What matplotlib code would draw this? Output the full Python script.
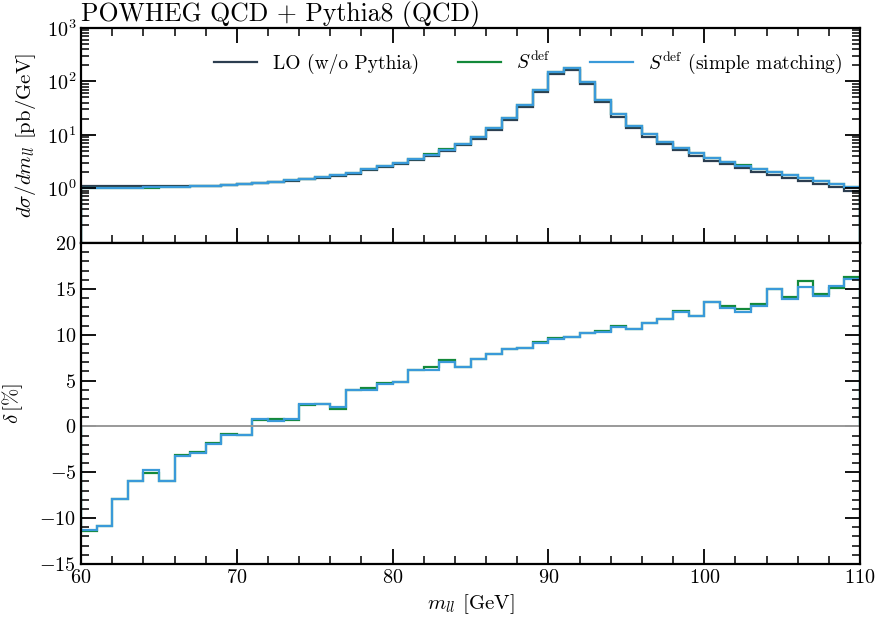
import numpy as np
import matplotlib; matplotlib.use('Agg')
import matplotlib.pyplot as plt
from matplotlib.ticker import MultipleLocator, LogLocator, NullFormatter, FixedLocator

plt.rcParams['font.family'] = 'serif'
plt.rcParams['font.serif'] = ['cmr10']
plt.rcParams['mathtext.fontset'] = 'cm'
plt.rcParams['axes.formatter.use_mathtext'] = True
plt.rcParams['axes.unicode_minus'] = True

# bin edges (1 GeV bins) and values
edges = np.arange(60, 111, 1)

# S^def (simple matching), top panel [pb/GeV]
xs_simple = [0.99, 1.00, 1.01, 1.02, 1.03, 1.03, 1.06, 1.08, 1.10, 1.13,
             1.18, 1.26, 1.32, 1.40, 1.50, 1.60, 1.75, 1.95, 2.25, 2.58,
             2.97, 3.53, 4.26, 5.29, 6.85, 9.1, 13.2, 20.6, 35.6, 70.0,
             149.0, 178.0, 97.0, 45.5, 24.2, 14.6, 10.2, 7.46, 5.76, 4.57,
             3.74, 3.15, 2.65, 2.30, 2.02, 1.77, 1.54, 1.35, 1.19, 1.03]

# delta [%] relative to LO
delta_def = [-11.45, -10.85, -7.95, -6.0, -5.1, -6.0, -3.1, -2.75, -1.8, -0.8,
             -0.9, 0.67, 0.8, 0.7, 2.3, 2.45, 1.87, 3.93, 4.15, 4.73,
             4.84, 6.1, 6.47, 7.27, 6.52, 7.39, 7.93, 8.41, 8.55, 9.2,
             9.6, 9.8, 10.2, 10.35, 10.94, 10.65, 11.3, 11.7, 12.57, 12.0,
             13.6, 13.12, 12.79, 13.33, 14.95, 14.13, 15.83, 14.49, 15.04, 16.27]
delta_simple = [-11.27, -10.83, -7.93, -6.0, -4.8, -6.0, -3.2, -2.85, -1.9, -0.97,
                -0.97, 0.78, 0.6, 0.85, 2.45, 2.45, 2.1, 3.93, 3.93, 4.62,
                4.84, 6.1, 6.2, 7.05, 6.52, 7.39, 7.86, 8.41, 8.55, 9.06,
                9.57, 9.75, 10.14, 10.33, 10.83, 10.62, 11.27, 11.7, 12.43, 11.99,
                13.59, 12.93, 12.46, 13.15, 14.93, 13.84, 15.22, 14.2, 15.29, 16.12]

xs_simple = np.array(xs_simple)
lo = xs_simple / (1 + np.array(delta_simple) / 100)
xs_def = lo * (1 + np.array(delta_def) / 100)

C_LO, C_DEF, C_SIM = '#2c3e50', '#13893a', '#3a9ad9'

fig = plt.figure(figsize=(8.79, 6.30), dpi=100)
ax1 = fig.add_axes([0.0922, 0.6143, 0.8862, 0.3413])
ax2 = fig.add_axes([0.0922, 0.1048, 0.8862, 0.5095], sharex=ax1)

def style(ax):
    for s in ax.spines.values(): s.set_linewidth(1.6)
    ax.tick_params(which='major', direction='in', length=11, width=1.3, labelsize=14.5)
    ax.tick_params(which='minor', direction='in', length=6, width=1.1)

# top panel
ax1.stairs(lo, edges, color=C_LO, lw=1.6, label='LO (w/o Pythia)')
ax1.stairs(xs_def, edges, color=C_DEF, lw=1.6, label=r'$S^{\rm def}$')
ax1.stairs(xs_simple, edges, color=C_SIM, lw=1.6, label=r'$S^{\rm def}$ (simple matching)')
ax1.set_yscale('log')
ax1.set_ylim(0.094, 1000)
ax1.set_xlim(60, 110)
ax1.yaxis.set_major_locator(FixedLocator([1, 10, 100, 1000]))
ax1.yaxis.set_minor_locator(LogLocator(base=10, subs=np.arange(2, 10), numticks=20))
ax1.yaxis.set_minor_formatter(NullFormatter())
ax1.xaxis.set_minor_locator(MultipleLocator(2))
style(ax1)
ax1.tick_params(which='both', top=True, right=True, labelbottom=False)
ax1.set_ylabel(r'$d\sigma/dm_{ll}$ [pb/GeV]', fontsize=15, labelpad=6)
ax1.set_title('POWHEG QCD + Pythia8 (QCD)', loc='left', fontsize=18.5, pad=5)
ax1.legend(loc='upper right', ncol=3, frameon=False, fontsize=14, handlelength=2.2,
           columnspacing=2.0, bbox_to_anchor=(1.0, 0.975))

# bottom panel
ax2.axhline(0, color='#999999', lw=1.4)
ax2.stairs(delta_def, edges, color=C_DEF, lw=1.6)
ax2.stairs(delta_simple, edges, color=C_SIM, lw=1.6)
ax2.set_ylim(-15, 20)
ax2.set_xlim(60, 110)
ax2.yaxis.set_major_locator(MultipleLocator(5))
ax2.yaxis.set_minor_locator(MultipleLocator(1))
ax2.xaxis.set_major_locator(MultipleLocator(10))
ax2.xaxis.set_minor_locator(MultipleLocator(2))
style(ax2)
ax2.tick_params(which='both', top=False, right=True)
ax2.set_ylabel(r'$\delta\,[\%]$', fontsize=15, labelpad=10)
ax2.set_xlabel(r'$m_{ll}$ [GeV]', fontsize=15)

fig.savefig('out.png', dpi=100)
